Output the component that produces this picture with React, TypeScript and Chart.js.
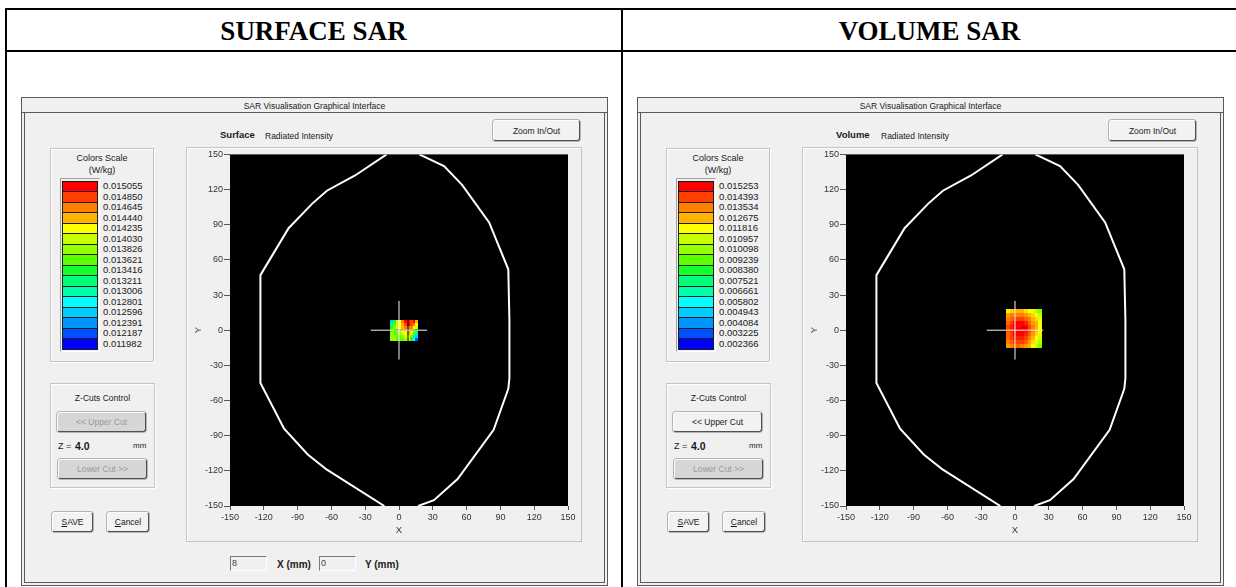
import React, { useEffect, useRef } from "react";
import { Chart, registerables } from "chart.js";
Chart.register(...registerables);

// ---------------- data ----------------
const PANEL_TITLES = ["SURFACE SAR", "VOLUME SAR"];
const MODE_LABELS = ["Surface", "Volume"];
const AXIS_TICKS = [-150, -120, -90, -60, -30, 0, 30, 60, 90, 120, 150];

const SCALE_COLORS = [
  "#FF0000", "#FF4000", "#FF8000", "#FFB400", "#FFFF00", "#C8FF00", "#96FF00", "#5AFF00",
  "#14FF28", "#00FF78", "#00FFAA", "#00FFFF", "#00CCFF", "#0096FF", "#0050FF", "#0000FF",
];

const SURFACE_LEVELS = [
  0.015055, 0.01485, 0.014645, 0.01444, 0.014235, 0.01403, 0.013826, 0.013621,
  0.013416, 0.013211, 0.013006, 0.012801, 0.012596, 0.012391, 0.012187, 0.011982,
];
const VOLUME_LEVELS = [
  0.015253, 0.014393, 0.013534, 0.012675, 0.011816, 0.010957, 0.010098, 0.009239,
  0.00838, 0.007521, 0.006661, 0.005802, 0.004943, 0.004084, 0.003225, 0.002366,
];

// phantom outline (mm)
const OUTLINE_LEFT_X = [-11, -39, -64, -77, -98, -123, -123, -102, -81, -64, -13];
const OUTLINE_LEFT_Y = [150, 132, 119, 108, 87, 47, -45, -84, -106, -119, -150];
const OUTLINE_RIGHT_X = [17, 31, 52, 84, 97, 98, 98, 97, 80, 56, 40, 18];
const OUTLINE_RIGHT_Y = [-150, -145, -127, -85, -50, -41, 8, 52, 92, 124, 140, 150];

// measured area extents (mm): [left, right], [top, bottom]
const SURFACE_X_RANGE = [-8, 17];
const SURFACE_Y_RANGE = [8.5, -9];
const VOLUME_X_RANGE = [-8, 24];
const VOLUME_Y_RANGE = [18, -15];

// SAR values (W/kg), rows from top to bottom
const SURFACE_SAR = [
  [0.0126, 0.01342, 0.01403, 0.01424, 0.01465, 0.01505, 0.01505, 0.01485, 0.01505, 0.01444],
  [0.01301, 0.01362, 0.01403, 0.01424, 0.01444, 0.01485, 0.01505, 0.01485, 0.01465, 0.01424],
  [0.01342, 0.01383, 0.01403, 0.01424, 0.01444, 0.01465, 0.01465, 0.01465, 0.01424, 0.01403],
  [0.01362, 0.01362, 0.01383, 0.01403, 0.01424, 0.01424, 0.01444, 0.01424, 0.01383, 0.01342],
  [0.01383, 0.01362, 0.01362, 0.01383, 0.01403, 0.01424, 0.01444, 0.01403, 0.01362, 0.01301],
  [0.01383, 0.01383, 0.01362, 0.01362, 0.01383, 0.01403, 0.01424, 0.01362, 0.01301, 0.0126],
  [0.01383, 0.01383, 0.01362, 0.01362, 0.01362, 0.01383, 0.01403, 0.01342, 0.0128, 0.01219],
];
const VOLUME_SAR = [
  [0.01139, 0.01224, 0.01267, 0.01267, 0.01267, 0.01224, 0.01182, 0.01139, 0.01053, 0.00967],
  [0.0131, 0.01353, 0.01353, 0.01353, 0.01353, 0.0131, 0.01267, 0.01224, 0.01182, 0.01096],
  [0.01353, 0.01396, 0.01439, 0.01439, 0.01439, 0.01396, 0.01353, 0.01267, 0.01224, 0.01139],
  [0.01396, 0.01439, 0.01525, 0.01525, 0.01525, 0.01482, 0.01396, 0.0131, 0.01267, 0.01182],
  [0.01439, 0.01482, 0.01525, 0.01525, 0.01525, 0.01525, 0.01439, 0.01353, 0.01267, 0.01182],
  [0.01439, 0.01482, 0.01525, 0.01525, 0.01525, 0.01525, 0.01439, 0.01353, 0.01267, 0.01182],
  [0.01396, 0.01439, 0.01525, 0.01525, 0.01525, 0.01482, 0.01396, 0.0131, 0.01224, 0.01139],
  [0.01396, 0.01439, 0.01482, 0.01482, 0.01482, 0.01439, 0.01353, 0.01267, 0.01182, 0.01096],
  [0.01353, 0.01396, 0.01439, 0.01439, 0.01439, 0.01396, 0.0131, 0.01224, 0.01139, 0.01053],
  [0.0131, 0.01353, 0.01396, 0.01396, 0.01353, 0.0131, 0.01267, 0.01182, 0.01096, 0.00967],
];

const CROSS_CENTER = [0, 0];
const CROSS_HALF = 25;
const SURFACE_PROBE = [8, 0];
const SURFACE_PROBE_HALF = 12.5;
const VOLUME_PEAK = [8, 2];
const POSITION_X = "8";
const POSITION_Y = "0";
const Z_VALUE = "4.0";

// ---------------- helpers ----------------
const FONT = '"Liberation Sans", Arial, sans-serif';

function hexRgb(h: string) {
  const n = parseInt(h.slice(1), 16);
  return [(n >> 16) & 255, (n >> 8) & 255, n & 255];
}

function colorFor(v: number, levels: number[]) {
  const max = levels[0];
  const min = levels[levels.length - 1];
  let t = ((max - v) / (max - min)) * (levels.length - 1);
  t = Math.max(0, Math.min(levels.length - 1, t));
  const i = Math.min(Math.floor(t), levels.length - 2);
  const f = t - i;
  const a = hexRgb(SCALE_COLORS[i]);
  const b = hexRgb(SCALE_COLORS[i + 1]);
  const c = a.map((av, k) => Math.round(av + (b[k] - av) * f));
  return `rgb(${c[0]},${c[1]},${c[2]})`;
}

function makeHeatPlugin(grid: number[][], xr: number[], yr: number[], levels: number[]) {
  return {
    id: "sarHeat",
    beforeDraw(chart: any) {
      const { ctx, chartArea } = chart;
      ctx.save();
      ctx.fillStyle = "#000";
      ctx.fillRect(chartArea.left, chartArea.top, chartArea.right - chartArea.left, chartArea.bottom - chartArea.top);
      ctx.restore();
    },
    beforeDatasetsDraw(chart: any) {
      const { ctx } = chart;
      const xs = chart.scales.x;
      const ys = chart.scales.y;
      const rows = grid.length;
      const cols = grid[0].length;
      ctx.save();
      for (let r = 0; r < rows; r++) {
        for (let c = 0; c < cols; c++) {
          const xa = xr[0] + ((xr[1] - xr[0]) * c) / cols;
          const xb = xr[0] + ((xr[1] - xr[0]) * (c + 1)) / cols;
          const ya = yr[0] + ((yr[1] - yr[0]) * r) / rows;
          const yb = yr[0] + ((yr[1] - yr[0]) * (r + 1)) / rows;
          const pl = Math.round(xs.getPixelForValue(xa));
          const pr = Math.round(xs.getPixelForValue(xb));
          const pt = Math.round(ys.getPixelForValue(ya));
          const pb = Math.round(ys.getPixelForValue(yb));
          ctx.fillStyle = colorFor(grid[r][c], levels);
          ctx.fillRect(pl, pt, pr - pl, pb - pt);
        }
      }
      ctx.restore();
    },
  };
}

function pts(xs: number[], ys: number[]) {
  return xs.map((x, i) => ({ x, y: ys[i] }));
}

function lineDs(data: any[], color: string, width: number) {
  return { data, showLine: true, borderColor: color, backgroundColor: color, borderWidth: width, pointRadius: 0, fill: false, tension: 0 };
}

function SarChart({ mode }: { mode: number }) {
  const ref = useRef<HTMLCanvasElement | null>(null);
  useEffect(() => {
    if (!ref.current) return;
    const surface = mode === 0;
    const grid = surface ? SURFACE_SAR : VOLUME_SAR;
    const xr = surface ? SURFACE_X_RANGE : VOLUME_X_RANGE;
    const yr = surface ? SURFACE_Y_RANGE : VOLUME_Y_RANGE;
    const levels = surface ? SURFACE_LEVELS : VOLUME_LEVELS;
    const [cx, cy] = CROSS_CENTER;
    const datasets: any[] = [
      lineDs(pts(OUTLINE_LEFT_X, OUTLINE_LEFT_Y), "#ffffff", 2),
      lineDs(pts(OUTLINE_RIGHT_X, OUTLINE_RIGHT_Y), "#ffffff", 2),
      lineDs([{ x: cx - CROSS_HALF, y: cy }, { x: cx + CROSS_HALF, y: cy }], "#f4f4f4", 1),
      lineDs([{ x: cx, y: cy - CROSS_HALF }, { x: cx, y: cy + CROSS_HALF }], "#f4f4f4", 1),
    ];
    if (surface) {
      const [px, py] = SURFACE_PROBE;
      datasets.push(lineDs([{ x: px - SURFACE_PROBE_HALF, y: py }, { x: px + SURFACE_PROBE_HALF, y: py }], "#000000", 1));
      datasets.push(lineDs([{ x: px, y: py - SURFACE_PROBE_HALF }, { x: px, y: py + SURFACE_PROBE_HALF }], "#000000", 1));
    } else {
      datasets.push({ data: [{ x: VOLUME_PEAK[0], y: VOLUME_PEAK[1] }], showLine: false, pointRadius: 1, pointBorderWidth: 0, backgroundColor: "#7a0000", borderColor: "#7a0000" });
    }
    const tickFont = { family: FONT, size: 9 };
    const axis = (isX: boolean) => ({
      type: "linear",
      min: -150,
      max: 150,
      afterBuildTicks: (s: any) => {
        s.ticks = AXIS_TICKS.map((v) => ({ value: v }));
      },
      afterFit: (s: any) => {
        if (isX) s.height = 35;
        else s.width = 43;
      },
      grid: { display: true, drawOnChartArea: false, drawTicks: true, tickLength: isX ? 4 : 6, tickColor: "#555", color: "#555" },
      border: { display: false },
      ticks: { font: tickFont, color: "#333", padding: isX ? 2 : 1, autoSkip: false, maxRotation: 0, minRotation: 0 },
      title: {
        display: true,
        text: isX ? "X" : "Y",
        color: "#334",
        font: { family: FONT, size: 9.5 },
        padding: isX ? { top: 0, bottom: 5 } : { top: 6, bottom: 0 },
      },
    });
    const chart = new Chart(ref.current, {
      type: "scatter",
      data: { datasets },
      options: {
        animation: false,
        responsive: false,
        maintainAspectRatio: false,
        events: [],
        layout: { padding: { top: 6, right: 13, left: 0, bottom: 0 } },
        plugins: { legend: { display: false }, tooltip: { enabled: false }, title: { display: false } },
        scales: { x: axis(true), y: axis(false) } as any,
      },
      plugins: [makeHeatPlugin(grid, xr, yr, levels) as any],
    } as any);
    return () => chart.destroy();
  }, [mode]);
  return <canvas ref={ref} width={394} height={393} style={{ display: "block", width: 394, height: 393 }} />;
}

// ---------------- UI widgets ----------------
const abs = (left: number, top: number, extra: any = {}) => ({ position: "absolute" as const, left, top, ...extra });

function Button({ left, top, width, height, disabled, children }: any) {
  return (
    <div
      style={abs(left, top, {
        width,
        height,
        boxSizing: "border-box",
        borderTop: "1px solid #fdfdfd",
        borderLeft: "1px solid #fdfdfd",
        borderRight: "1px solid #505050",
        borderBottom: "1px solid #505050",
        borderRadius: 3,
        boxShadow: "0 0 0 1px #b4b4b4",
        background: disabled ? "#d6d6d6" : "#f2f2f2",
        color: disabled ? "#9a9a9a" : "#1a1a1a",
        font: `8.5px ${FONT}`,
        display: "flex",
        alignItems: "center",
        justifyContent: "center",
      })}
    >
      {children}
    </div>
  );
}

function GroupBox({ left, top, width, height }: any) {
  return (
    <div
      style={abs(left, top, {
        width,
        height,
        boxSizing: "border-box",
        border: "1px solid #c4c4c4",
        boxShadow: "inset 1px 1px 0 #ffffff, 1px 1px 0 #ffffff",
      })}
    />
  );
}

function Txt({ left, top, children, size = 8.5, bold = false, color = "#1a1a1a", center = false, width }: any) {
  return (
    <div
      style={abs(center ? left - (width || 120) / 2 : left, top, {
        width: center ? width || 120 : undefined,
        textAlign: center ? "center" : "left",
        font: `${bold ? "bold " : ""}${size}px ${FONT}`,
        color,
        lineHeight: "12px",
        height: 12,
        whiteSpace: "nowrap",
      })}
    >
      {children}
    </div>
  );
}

function Panel({ mode }: { mode: number }) {
  const ox = mode === 0 ? 0 : 616;
  const levels = mode === 0 ? SURFACE_LEVELS : VOLUME_LEVELS;
  const X = (v: number) => v + ox;
  return (
    <>
      {/* window frame */}
      <div style={abs(X(21), 97, { width: 587, height: 489, boxSizing: "border-box", border: "1px solid #5a5a5a", background: "#f0f0f0" })} />
      <div style={abs(X(22), 112, { width: 585, height: 1, background: "#5a5a5a" })} />
      <div style={abs(X(24), 113, { width: 581, height: 470, boxSizing: "border-box", border: "1px solid #5a5a5a", borderTop: "none" })} />
      <Txt left={X(314.5)} top={99.5} center width={300} size={8.5}>SAR Visualisation Graphical Interface</Txt>

      {/* header */}
      <Txt left={X(220)} top={129} size={9.5} bold>{MODE_LABELS[mode]}</Txt>
      <Txt left={X(265)} top={129.5} size={8.5}>Radiated Intensity</Txt>
      <Button left={X(493)} top={120} width={87} height={21}>Zoom In/Out</Button>

      {/* colour scale */}
      <GroupBox left={X(50)} top={148} width={104} height={214} />
      <Txt left={X(102)} top={152} center width={100} size={9}>Colors Scale</Txt>
      <Txt left={X(102)} top={164} center width={100} size={9}>(W/kg)</Txt>
      <div style={abs(X(60), 178, { width: 40, height: 174, boxSizing: "border-box", borderTop: "1px solid #a0a0a0", borderLeft: "1px solid #a0a0a0", borderRight: "1px solid #ffffff", borderBottom: "1px solid #ffffff" })} />
      {SCALE_COLORS.map((c, i) => {
        const t = Math.round(180.5 + i * 10.5);
        const b = Math.round(180.5 + (i + 1) * 10.5);
        return (
          <div key={"s" + i} style={abs(X(62), t, { width: 36, height: b - t + 1, boxSizing: "border-box", border: "1px solid #1c1c1c", background: c })} />
        );
      })}
      {levels.map((v, i) => (
        <div key={"l" + i} style={abs(X(103), 180 + i * 10.5, { font: `9.5px ${FONT}`, color: "#1a1a1a", lineHeight: "11px", height: 11, whiteSpace: "nowrap" })}>
          {v.toFixed(6)}
        </div>
      ))}

      {/* Z cuts */}
      <GroupBox left={X(50)} top={383} width={105} height={105} />
      <Txt left={X(102.5)} top={392} center width={100}>Z-Cuts Control</Txt>
      <Button left={X(57)} top={412} width={89} height={20} disabled={mode === 0}>&lt;&lt; Upper Cut</Button>
      <Txt left={X(58)} top={440} size={9}>Z =</Txt>
      <Txt left={X(75)} top={440} size={10.5} bold>{Z_VALUE}</Txt>
      <Txt left={X(133)} top={440} size={8}>mm</Txt>
      <Button left={X(58)} top={459} width={89} height={20} disabled>Lower Cut &gt;&gt;</Button>

      <Button left={X(52)} top={512} width={41} height={20}><span><u>S</u>AVE</span></Button>
      <Button left={X(107)} top={512} width={42} height={20}><span><u>C</u>ancel</span></Button>

      {/* chart box */}
      <div style={abs(X(186), 147, { width: 396, height: 395, boxSizing: "border-box", border: "1px solid #c4c4c4", boxShadow: "inset 1px 1px 0 #fff" })}>
        <SarChart mode={mode} />
      </div>

      {mode === 0 && (
        <>
          <div style={abs(X(230), 556, { width: 37, height: 15, boxSizing: "border-box", borderTop: "1px solid #7a7a7a", borderLeft: "1px solid #7a7a7a", borderRight: "1px solid #fff", borderBottom: "1px solid #fff", font: `9px ${FONT}`, color: "#444", paddingLeft: 1, lineHeight: "13px" })}>{POSITION_X}</div>
          <Txt left={X(277)} top={559} size={10} bold>X (mm)</Txt>
          <div style={abs(X(319), 556, { width: 37, height: 15, boxSizing: "border-box", borderTop: "1px solid #7a7a7a", borderLeft: "1px solid #7a7a7a", borderRight: "1px solid #fff", borderBottom: "1px solid #fff", font: `9px ${FONT}`, color: "#444", paddingLeft: 1, lineHeight: "13px" })}>{POSITION_Y}</div>
          <Txt left={X(365)} top={559} size={10} bold>Y (mm)</Txt>
        </>
      )}
    </>
  );
}

export default function App() {
  return (
    <div style={{ position: "fixed", left: 0, top: 0, width: 1236, height: 587, overflow: "hidden", background: "#ffffff" }}>
      {/* document table lines */}
      <div style={abs(5, 8, { width: 1240, height: 2, background: "#000" })} />
      <div style={abs(5, 50, { width: 1240, height: 2, background: "#000" })} />
      <div style={abs(5, 8, { width: 2, height: 600, background: "#000" })} />
      <div style={abs(621, 8, { width: 2, height: 600, background: "#000" })} />
      <div style={abs(6, 13, { width: 615, textAlign: "center", font: `bold 27px "Liberation Serif", "Times New Roman", serif`, color: "#000", lineHeight: "36px" })}>{PANEL_TITLES[0]}</div>
      <div style={abs(623, 13, { width: 613, textAlign: "center", font: `bold 27px "Liberation Serif", "Times New Roman", serif`, color: "#000", lineHeight: "36px" })}>{PANEL_TITLES[1]}</div>
      <Panel mode={0} />
      <Panel mode={1} />
    </div>
  );
}
